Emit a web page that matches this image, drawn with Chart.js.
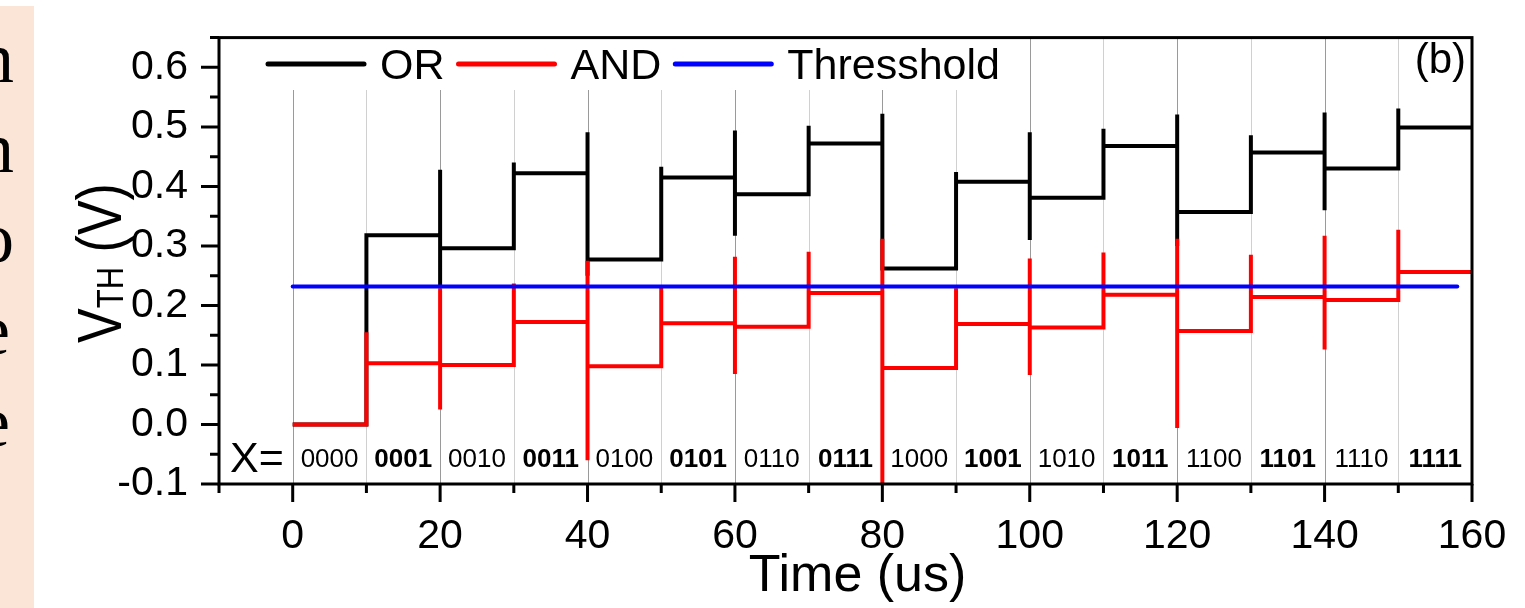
<!DOCTYPE html>
<html>
<head>
<meta charset="utf-8">
<title>VTH vs time</title>
<script src="https://cdn.jsdelivr.net/npm/chart.js@4.4.1/dist/chart.umd.min.js"></script>
<style>
  html, body { margin: 0; padding: 0; background: #fff; }
  #wrap { position: relative; width: 1525px; height: 608px; overflow: hidden; }
  #side { position: absolute; left: 0; top: 6px; width: 34px; height: 602px; background: #fbe5d6; overflow: hidden; }
  #side span { position: absolute; left: -22px; display: block; width: 40px; height: 90px;
               font-family: "Liberation Serif", "DejaVu Serif", serif; font-size: 72px; line-height: 90px; color: #000; }
  #chart { position: absolute; left: 0; top: 0; }
</style>
</head>
<body>
<div id="wrap">
  <div id="side">
    <span style="top:7px">n</span>
    <span style="top:97px">n</span>
    <span style="top:187px">o</span>
    <span style="top:279px">e</span>
    <span style="top:371px">e</span>
  </div>
  <canvas id="chart" width="1525" height="608"></canvas>
</div>
<script>
// ─── Data ───────────────────────────────────────────────────────────────────
// one 10 us slot per input code X
const segStarts = [0, 10, 20, 30, 40, 50, 60, 70, 80, 90, 100, 110, 120, 130, 140, 150];
const endTime = 160;
const codeLabels = ["0000", "0001", "0010", "0011", "0100", "0101", "0110", "0111",
                    "1000", "1001", "1010", "1011", "1100", "1101", "1110", "1111"];

// settled VTH level in each slot (V)
const orLevels  = [0.000, 0.318, 0.296, 0.422, 0.277, 0.415, 0.387, 0.472,
                   0.262, 0.408, 0.381, 0.468, 0.357, 0.457, 0.430, 0.499];
const andLevels = [0.000, 0.103, 0.100, 0.172, 0.098, 0.170, 0.164, 0.221,
                   0.095, 0.169, 0.163, 0.218, 0.157, 0.214, 0.209, 0.256];

// switching spikes at each slot boundary (max / min reached)
const switchTimes  = [10, 20, 30, 40, 50, 60, 70, 80, 90, 100, 110, 120, 130, 140, 150];
const orSpikeHigh  = [0.318, 0.428, 0.440, 0.491, 0.433, 0.494, 0.502, 0.522,
                      0.424, 0.491, 0.497, 0.521, 0.486, 0.524, 0.531];
const orSpikeLow   = [0.000, 0.230, 0.296, 0.250, 0.277, 0.317, 0.387, 0.262,
                      0.262, 0.310, 0.381, 0.300, 0.357, 0.360, 0.430];
const andSpikeHigh = [0.155, 0.229, 0.237, 0.275, 0.234, 0.282, 0.290, 0.312,
                      0.229, 0.279, 0.289, 0.312, 0.285, 0.317, 0.327];
const andSpikeLow  = [0.000, 0.025, 0.100, -0.060, 0.098, 0.085, 0.164, -0.130,
                      0.095, 0.083, 0.163, -0.006, 0.157, 0.126, 0.209];

const thresholdTimes  = [0, 158];
const thresholdLevels = [0.232, 0.232];

// axes
const xTickValues  = [0, 20, 40, 60, 80, 100, 120, 140, 160];
const xMinorValues = [-10, 10, 30, 50, 70, 90, 110, 130, 150];
const yTickValues  = [-0.1, 0.0, 0.1, 0.2, 0.3, 0.4, 0.5, 0.6];
const yMinorValues = [-0.05, 0.05, 0.15, 0.25, 0.35, 0.45, 0.55, 0.65];
const gridTimes    = [0, 10, 20, 30, 40, 50, 60, 70, 80, 90, 100, 110, 120, 130, 140, 150];

const SANS = '"Liberation Sans", Arial, Helvetica, sans-serif';

// step trace: level, spike up/down at every switch, next level
function buildTrace(levels, hi, lo) {
  const pts = [{ x: segStarts[0], y: levels[0] }];
  switchTimes.forEach((t, i) => {
    pts.push({ x: t, y: levels[i] }, { x: t, y: hi[i] }, { x: t, y: lo[i] }, { x: t, y: levels[i + 1] });
  });
  pts.push({ x: endTime, y: levels[levels.length - 1] });
  return pts;
}

// ─── Grid, legend box, frame, minor ticks, annotations ─────────────────────
const decor = {
  id: "decor",
  beforeDatasetsDraw(chart) {
    const { ctx, chartArea: a, scales: { x } } = chart;
    ctx.save();
    ctx.lineWidth = 1;
    gridTimes.forEach((t) => {
      const px = Math.round(x.getPixelForValue(t)) + 0.5;
      ctx.strokeStyle = t % 20 === 0 ? "#9a9a9a" : "#d0d0d0";
      ctx.beginPath();
      ctx.moveTo(px, a.top);
      ctx.lineTo(px, a.bottom);
      ctx.stroke();
    });

    // legend sits on a white box that hides the grid
    ctx.fillStyle = "#fff";
    ctx.fillRect(a.left, 34, 1015 - a.left, 56);
    ctx.font = "43px " + SANS;
    ctx.textBaseline = "alphabetic";
    ctx.textAlign = "left";
    let lx = 265;
    chart.data.datasets.forEach((ds) => {
      ctx.strokeStyle = ds.borderColor;
      ctx.lineWidth = 5;
      ctx.lineCap = "round";
      ctx.beginPath();
      ctx.moveTo(lx + 3, 64);
      ctx.lineTo(lx + 99, 64);
      ctx.stroke();
      ctx.fillStyle = "#000";
      ctx.fillText(ds.label, lx + 115, 79);
      lx += 115 + ctx.measureText(ds.label).width + 11;
    });
    ctx.restore();
  },
  afterDatasetsDraw(chart) {
    const { ctx, chartArea: a, scales: { x, y } } = chart;
    ctx.save();
    ctx.strokeStyle = "#000";
    ctx.lineWidth = 3;
    ctx.lineCap = "butt";
    ctx.strokeRect(a.left, a.top, a.right - a.left, a.bottom - a.top);

    ctx.beginPath();
    yTickValues.forEach((v) => { const py = y.getPixelForValue(v); ctx.moveTo(a.left - 18, py); ctx.lineTo(a.left, py); });
    yMinorValues.forEach((v) => { const py = y.getPixelForValue(v); ctx.moveTo(a.left - 9, py); ctx.lineTo(a.left, py); });
    xTickValues.forEach((v) => { const px = x.getPixelForValue(v); ctx.moveTo(px, a.bottom); ctx.lineTo(px, a.bottom + 18); });
    xMinorValues.forEach((v) => { const px = x.getPixelForValue(v); ctx.moveTo(px, a.bottom); ctx.lineTo(px, a.bottom + 9); });
    ctx.stroke();

    // input code row
    ctx.fillStyle = "#000";
    ctx.textBaseline = "alphabetic";
    ctx.textAlign = "left";
    ctx.font = "43px " + SANS;
    ctx.fillText("X=", 230, 472);
    ctx.textAlign = "center";
    codeLabels.forEach((lab, i) => {
      ctx.font = (i % 2 ? "bold " : "") + "26px " + SANS;
      ctx.fillText(lab, x.getPixelForValue(segStarts[i] + 5), 467);
    });

    // panel tag
    ctx.textAlign = "right";
    ctx.font = "42px " + SANS;
    ctx.fillText("(b)", 1466, 73);

    // x title
    ctx.textAlign = "center";
    ctx.font = "52px " + SANS;
    ctx.fillText("Time (us)", (a.left + a.right) / 2 + 12, 591);

    // y title with subscript (glyphs a little taller than wide, as in the source)
    ctx.translate(121, 263);
    ctx.rotate(-Math.PI / 2);
    ctx.scale(1, 1.2);
    ctx.textAlign = "left";
    const big = "52px " + SANS, small = "31px " + SANS;
    ctx.font = big; const wV = ctx.measureText("V").width; const wRest = ctx.measureText(" (V)").width;
    ctx.font = small; const wSub = ctx.measureText("TH").width;
    let cx = -(wV + wSub + wRest) / 2;
    ctx.font = big; ctx.fillText("V", cx, 0); cx += wV;
    ctx.font = small; ctx.fillText("TH", cx, 2); cx += wSub;
    ctx.font = big; ctx.fillText(" (V)", cx, 0);
    ctx.restore();
  },
};

new Chart(document.getElementById("chart"), {
  type: "line",
  data: {
    datasets: [
      { label: "OR", data: buildTrace(orLevels, orSpikeHigh, orSpikeLow),
        borderColor: "#000000", borderWidth: 4, pointRadius: 0, order: 2, clip: 0 },
      { label: "AND", data: buildTrace(andLevels, andSpikeHigh, andSpikeLow),
        borderColor: "#ff0000", borderWidth: 4, pointRadius: 0, order: 1, clip: 0 },
      { label: "Thresshold", data: thresholdTimes.map((t, i) => ({ x: t, y: thresholdLevels[i] })),
        borderColor: "#0000ff", borderWidth: 4, pointRadius: 0, borderCapStyle: "round", order: 0, clip: 0 },
    ],
  },
  options: {
    responsive: false,
    animation: false,
    layout: { padding: { top: 31, right: 53, left: 0, bottom: 0 } },
    plugins: { legend: { display: false }, tooltip: { enabled: false } },
    elements: { line: { tension: 0 } },
    scales: {
      x: {
        type: "linear", min: -10, max: endTime,
        afterBuildTicks: (s) => { s.ticks = xTickValues.map((v) => ({ value: v })); },
        afterFit: (s) => { s.height = 124; },
        grid: { display: true, drawOnChartArea: false, color: "rgba(0,0,0,0)", tickLength: 18 },
        border: { display: false },
        ticks: { color: "#000", font: { family: SANS, size: 41 }, padding: 10, maxRotation: 0, autoSkip: false,
                 callback: (v) => String(v) },
      },
      y: {
        type: "linear", min: -0.1, max: 0.65,
        afterBuildTicks: (s) => { s.ticks = yTickValues.map((v) => ({ value: v })); },
        afterFit: (s) => { s.width = 219; },
        grid: { display: true, drawOnChartArea: false, color: "rgba(0,0,0,0)", tickLength: 18 },
        border: { display: false },
        ticks: { color: "#000", font: { family: SANS, size: 41 }, padding: 13, autoSkip: false,
                 callback: (v) => v.toFixed(1) },
      },
    },
  },
  plugins: [decor],
});
</script>
</body>
</html>
